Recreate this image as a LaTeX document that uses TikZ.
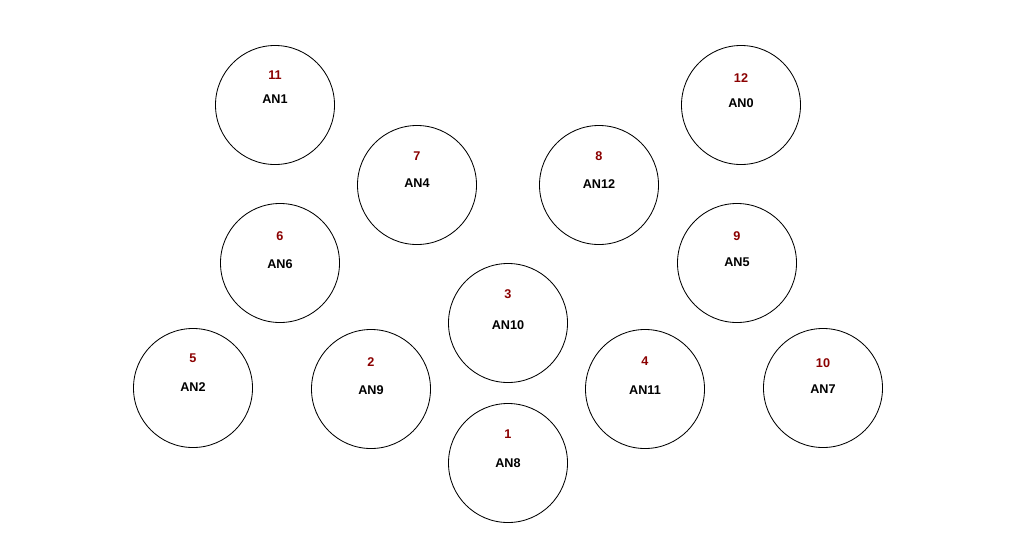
\documentclass[tikz,border=0pt]{standalone}
\usepackage{fontspec}
\setmainfont{Liberation Sans}
\usetikzlibrary{positioning}
\definecolor{Ink}{HTML}{000000}
\definecolor{Rank}{HTML}{8B0000}
\tikzset{
  site/.style={circle,draw=Ink,fill=white,line width=.6pt,minimum size=2.975cm,inner sep=0pt},
  tag/.style={inner sep=0pt,font=\fontsize{9}{10}\selectfont\bfseries,text=Ink},
  rank/.style={inner sep=0pt,font=\fontsize{9}{10}\selectfont\bfseries,text=Rank}
}
\begin{document}
\begin{tikzpicture}[x=.025cm,y=-.025cm]
        \useasboundingbox[fill=white] (0,0) rectangle (1016,549);
        % top row
        \node[site] (an1) at (275,105) {};
        \node[site] (an0) at (741,105) {};
        \node[tag] (t1) at ([yshift=.14cm]an1.center) {AN1};
        \node[tag] (t0) at ([yshift=.05cm]an0.center) {AN0};
        \node[rank,above=.63cm of an1.center] (r11) {11};
        \node[rank,above=.55cm of an0.center] (r12) {12};
        % second row
        \node[site] (an4) at (417,185) {};
        \node[site] (an12) at (599,185) {};
        \node[tag] (t4) at ([yshift=.05cm]an4.center) {AN4};
        \node[tag] (t12) at ([yshift=.02cm]an12.center) {AN12};
        \node[rank,above=.6cm of an4.center] (r7) {7};
        \node[rank,above=.6cm of an12.center] (r8) {8};
        % third row
        \node[site] (an6) at (280,263) {};
        \node[site] (an5) at (737,263) {};
        \node[tag] (t6) at ([yshift=-.02cm]an6.center) {AN6};
        \node[tag] (t5) at ([yshift=.02cm]an5.center) {AN5};
        \node[rank,above=.56cm of an6.center] (r6) {6};
        \node[rank,above=.56cm of an5.center] (r9) {9};
        % middle
        \node[site] (an10) at (508,323) {};
        \node[tag] (t10) at ([yshift=-.05cm]an10.center) {AN10};
        \node[rank,above=.6cm of an10.center] (r3) {3};
        % bottom row
        \node[site] (an2) at (193,388) {};
        \node[site] (an9) at (371,389) {};
        \node[site] (an11) at (645,389) {};
        \node[site] (an7) at (823,388) {};
        \node[tag] (t2) at ([yshift=.02cm]an2.center) {AN2};
        \node[tag] (t9) at ([yshift=-.02cm]an9.center) {AN9};
        \node[tag] (t11) at ([yshift=-.02cm]an11.center) {AN11};
        \node[tag] (t7) at ([yshift=-.02cm]an7.center) {AN7};
        \node[rank,above=.63cm of an2.center] (r5) {5};
        \node[rank,above=.55cm of an9.center] (r2) {2};
        \node[rank,above=.58cm of an11.center] (r4) {4};
        \node[rank,above=.5cm of an7.center] (r10) {10};
        % lowest
        \node[site] (an8) at (508,463) {};
        \node[tag] (t8) at (an8.center) {AN8};
        \node[rank,above=.6cm of an8.center] (r1) {1};
\end{tikzpicture}
\end{document}
